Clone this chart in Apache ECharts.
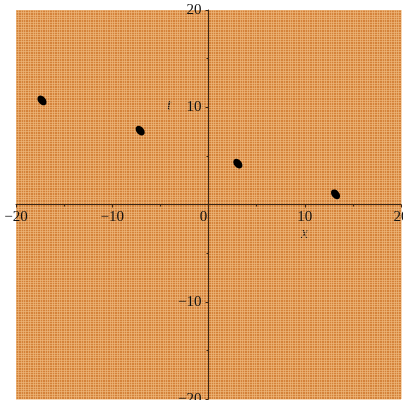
<!DOCTYPE html>
<html><head><meta charset="utf-8">
<script src="https://cdn.jsdelivr.net/npm/echarts@6/dist/echarts.min.js"></script>
<style>html,body{margin:0;padding:0;background:#fff}#c{width:403px;height:400px}</style>
</head><body><div id="c"></div>
<script>
const xValues = [-17.3, -7.1, 3.05, 13.2];
const tValues = [10.7, 7.6, 4.2, 1.05];
const tickLabels = [-20, -10, 0, 10, 20];

const font = 'Liberation Serif';
const axisColor = '#3a2616';
const fmt = v => (v < 0 ? '\u2212' + Math.abs(v) : '' + v);

const W = 403, H = 400, L = 16, R = 2, T = 10, B = 1;
const originX = L + (W - L - R) / 2;
const originY = T + (H - T - B) / 2;

const chart = echarts.init(document.getElementById('c'));
chart.setOption({
  animation: false,
  grid: [
    {left: L, right: R, top: T, bottom: B, containLabel: false, outerBoundsMode: 'none',
     show: true, backgroundColor: '#d4823a', borderWidth: 0},
  ],
  xAxis: [
    {type: 'value', min: -20, max: 20, interval: 10, gridIndex: 0, position: 'bottom',
     offset: -(H - B - originY),
     axisLine: {onZero: false, lineStyle: {color: axisColor, width: 1}},
     axisTick: {length: 3, lineStyle: {color: axisColor}},
     minorTick: {show: true, splitNumber: 2, length: 2, lineStyle: {color: axisColor}},
     splitLine: {show: false},
     axisLabel: {fontFamily: font, fontSize: 15, color: '#111', margin: 5, showMinLabel: true, showMaxLabel: true,
       formatter: v => v === 0 ? '{z|0}' : fmt(v),
       rich: {z: {fontFamily: font, fontSize: 15, color: '#111', padding: [0, 10, 0, 0]}}}},
    {type: 'value', min: -20, max: 20, interval: 0.25, gridIndex: 0,
     axisLine: {show: false}, axisTick: {show: false}, axisLabel: {show: false},
     splitLine: {show: true, lineStyle: {color: 'rgba(240,188,130,0.6)', width: 1}}}
  ],
  yAxis: [
    {type: 'value', min: -20, max: 20, interval: 10, gridIndex: 0, position: 'left',
     offset: -(originX - L),
     axisLine: {onZero: false, lineStyle: {color: axisColor, width: 1}},
     axisTick: {length: 3, lineStyle: {color: axisColor}},
     minorTick: {show: true, splitNumber: 2, length: 2, lineStyle: {color: axisColor}},
     splitLine: {show: false},
     axisLabel: {fontFamily: font, fontSize: 15, color: '#111', margin: 7, showMinLabel: true, showMaxLabel: true,
       formatter: v => v === 0 ? '' : fmt(v)}},
    {type: 'value', min: -20, max: 20, interval: 0.25, gridIndex: 0,
     axisLine: {show: false}, axisTick: {show: false}, axisLabel: {show: false},
     splitLine: {show: true, lineStyle: {color: 'rgba(240,188,130,0.6)', width: 1}}}
  ],
  graphic: [
    {type: 'text', left: 301, top: 226, style: {text: 'x', fontFamily: font, fontStyle: 'italic', fontSize: 16, fill: '#111'}},
    {type: 'text', left: 167, top: 98, style: {text: 't', fontFamily: font, fontStyle: 'italic', fontSize: 16, fill: '#111'}}
  ],
  series: [{
    type: 'scatter', xAxisIndex: 0, yAxisIndex: 0,
    data: xValues.map((x, i) => [x, tValues[i]]),
    symbol: 'circle', symbolSize: [11, 7.5], symbolRotate: -50,
    itemStyle: {color: '#000', opacity: 1}
  }]
});
</script></body></html>
